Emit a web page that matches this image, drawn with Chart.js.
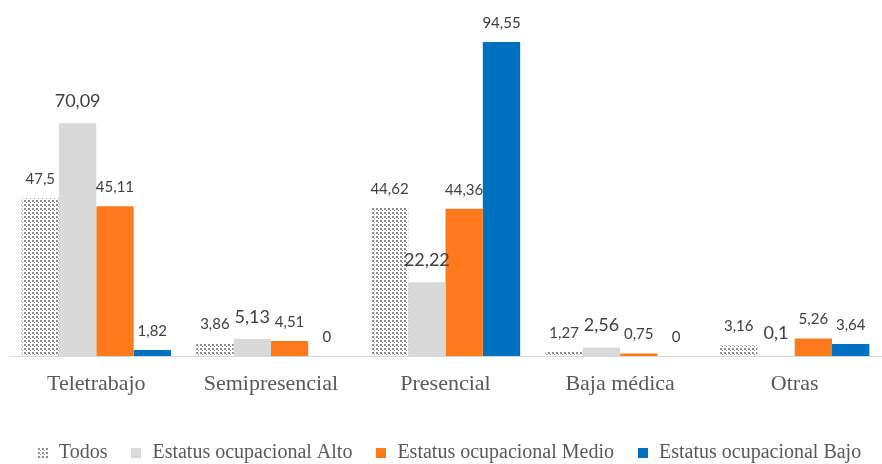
<!DOCTYPE html>
<html>
<head>
<meta charset="utf-8">
<script src="https://cdn.jsdelivr.net/npm/chart.js@4.4.1/dist/chart.umd.min.js"></script>
<style>
  body { margin: 0; background: #fff; }
</style>
</head>
<body>
<canvas id="myChart" width="882" height="464"></canvas>
<script>
let categories = ['Teletrabajo', 'Semipresencial', 'Presencial', 'Baja médica', 'Otras'];
let seriesNames = ['Todos', 'Estatus ocupacional Alto', 'Estatus ocupacional Medio', 'Estatus ocupacional Bajo'];
let todos = [47.5, 3.86, 44.62, 1.27, 3.16];
let alto = [70.09, 5.13, 22.22, 2.56, 0.1];
let medio = [45.11, 4.51, 44.36, 0.75, 5.26];
let bajo = [1.82, 0, 94.55, 0, 3.64];

// dotted fill for "Todos"
function makeDots() {
  let c = document.createElement('canvas');
  c.width = 4; c.height = 4;
  let g = c.getContext('2d');
  g.fillStyle = '#ffffff';
  g.fillRect(0, 0, 4, 4);
  g.fillStyle = '#8c8c8c';
  g.fillRect(0, 0, 2, 2);
  g.fillRect(2, 2, 1, 1);
  return c;
}
let dotTile = makeDots();
let ctx = document.getElementById('myChart').getContext('2d');
let dots = ctx.createPattern(dotTile, 'repeat');

function legendBox(fill) {
  let c = document.createElement('canvas');
  c.width = 10; c.height = 10;
  let g = c.getContext('2d');
  g.fillStyle = fill === 'dots' ? g.createPattern(dotTile, 'repeat') : fill;
  g.fillRect(0, 0, 10, 10);
  return c;
}

let colors = [dots, '#d9d9d9', '#ff7a1c', '#0070c0'];
let legendFills = ['dots', '#d9d9d9', '#ff7a1c', '#0070c0'];
let labelSizes = [15, 18, 15, 15];

const valueLabels = {
  id: 'valueLabels',
  afterDatasetsDraw(chart) {
    let c = chart.ctx;
    c.save();
    c.textAlign = 'center';
    c.textBaseline = 'middle';
    c.fillStyle = '#404040';
    chart.data.datasets.forEach((ds, i) => {
      let size = labelSizes[i];
      c.font = size + 'px Lato';
      chart.getDatasetMeta(i).data.forEach((bar, j) => {
        let txt = String(ds.data[j]).replace('.', ',');
        c.fillText(txt, bar.x, bar.y - (size > 15 ? 22 : 19));
      });
    });
    c.restore();
  }
};

let myChart = new Chart(ctx, {
  type: 'bar',
  data: {
    labels: categories,
    datasets: [todos, alto, medio, bajo].map((d, i) => ({
      label: seriesNames[i],
      data: d,
      backgroundColor: colors[i],
      borderWidth: 0,
      categoryPercentage: 0.855,
      barPercentage: 1,
      pointStyle: legendBox(legendFills[i])
    }))
  },
  options: {
    responsive: false,
    animation: false,
    layout: { padding: { left: 9, right: -7, top: 24, bottom: -9 } },
    plugins: {
      tooltip: { enabled: false },
      legend: {
        position: 'bottom',
        labels: {
          usePointStyle: true,
          pointStyleWidth: 12,
          padding: 23,
          color: '#595959',
          font: { family: 'Liberation Serif', size: 20 }
        }
      }
    },
    scales: {
      x: {
        grid: { display: false },
        border: { display: true, color: '#d9d9d9', width: 1 },
        ticks: {
          color: '#595959',
          padding: 7,
          font: { family: 'Liberation Serif', size: 22 }
        },
        afterFit(scale) {
          scale.height = 64;
        }
      },
      y: {
        display: false,
        min: 0,
        max: 100
      }
    }
  },
  plugins: [valueLabels]
});
</script>
</body>
</html>
